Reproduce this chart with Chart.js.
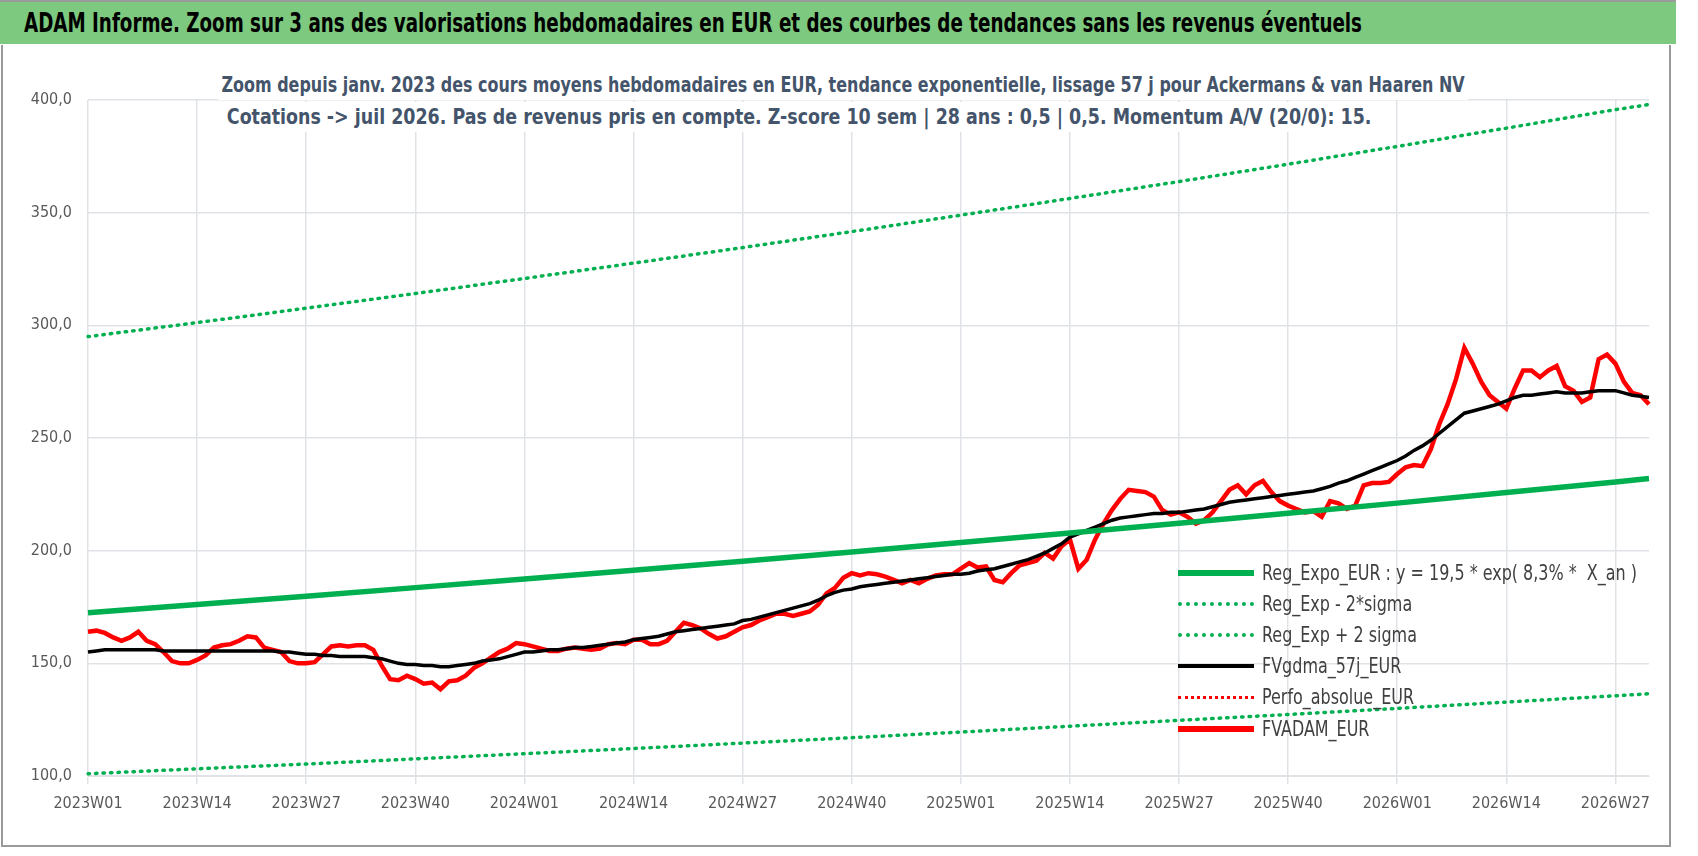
<!DOCTYPE html>
<html><head><meta charset="utf-8">
<script src="https://cdn.jsdelivr.net/npm/chart.js@4"></script>
<style>
body{margin:0;width:1698px;height:856px;background:#fff;overflow:hidden;font-family:'DejaVu Sans Condensed','DejaVu Sans',sans-serif;font-stretch:condensed;}
#banner{position:absolute;left:0;top:0;width:1676px;height:42px;background:#7dc97f;border-top:2px solid #9a9a9a;}
#banner span{position:absolute;left:24px;top:6px;font-weight:bold;font-size:26px;color:#000;white-space:nowrap;transform-origin:0 0;display:inline-block;}
#frame{position:absolute;left:1px;top:45px;width:1666px;height:800px;border:2px solid #9a9a9a;border-top:none;}
#wrap{position:absolute;left:0;top:0;width:1698px;height:856px;}
.tl{position:absolute;background:#fff;font-weight:bold;font-size:21px;line-height:30px;color:#44546a;white-space:nowrap;transform-origin:50% 50%;display:inline-block;padding:0 4px;}
#legend{position:absolute;left:1178px;top:557px;font-size:21px;color:#404040;}
.it{height:31.2px;display:flex;align-items:center;white-space:nowrap;}
.sw{width:76px;margin-right:8px;height:0;flex:none;}
.tx{display:inline-block;transform-origin:0 50%;}
</style></head><body>
<div id="banner"><span id="bt">ADAM Informe. Zoom sur 3 ans des valorisations hebdomadaires en EUR et des courbes de tendances sans les revenus éventuels</span></div>
<div id="frame"></div>
<div id="wrap"><canvas id="c" width="1698" height="856"></canvas></div>
<span class="tl" id="t1">Zoom depuis janv. 2023 des cours moyens hebdomadaires en EUR, tendance exponentielle, lissage 57 j pour Ackermans &amp; van Haaren NV</span>
<span class="tl" id="t2">Cotations -&gt; juil 2026. Pas de revenus pris en compte. Z-score 10 sem | 28 ans : 0,5 | 0,5. Momentum A/V (20/0): 15.</span>
<div id="legend">
<div class="it"><div class="sw" style="border-top:6px solid #00b050"></div><span class="tx">Reg_Expo_EUR : y = 19,5 * exp( 8,3% *&nbsp; X_an )</span></div>
<div class="it"><div class="sw" style="border-top:4px dotted #00b050"></div><span class="tx">Reg_Exp - 2*sigma</span></div>
<div class="it"><div class="sw" style="border-top:4px dotted #00b050"></div><span class="tx">Reg_Exp + 2 sigma</span></div>
<div class="it"><div class="sw" style="border-top:4px solid #000"></div><span class="tx">FVgdma_57j_EUR</span></div>
<div class="it"><div class="sw" style="border-top:3px dotted #ff0000"></div><span class="tx">Perfo_absolue_EUR</span></div>
<div class="it"><div class="sw" style="border-top:6px solid #ff0000"></div><span class="tx">FVADAM_EUR</span></div>
</div>
<script>
// weekly labels 2023W01 .. 2026W31
const years=[2023,2024,2025,2026];
const weeksPerYear=[52,52,52,31];
const labels=[];
years.forEach((y,k)=>{for(let w=1;w<=weeksPerYear[k];w++)labels.push(y+'W'+String(w).padStart(2,'0'));});

const fvadam=[
164,164.5,163.5,161.5,160,161.5,164,160,158.5,155,151,150,150,
151.5,153.5,157,158,158.5,160,162,161.5,157,156,155,151,150,
150,150.5,154,157.5,158,157.5,158,158,156,149,143,142.5,144.5,
143,141,141.5,138.5,142,142.5,144.5,148,150,152.5,155,156.5,159,
158.5,157.5,156.5,155.5,155.5,156.5,157,156.5,156,156.5,158.5,159,158.5,
160.5,160.5,158.5,158.5,160,164,168,167,165.5,163,161,162,164,
166,167,169,170.5,172,172,171,172,173,176,181,183.5,188,
190,189,190,189.5,188.5,187,185.5,187,185.5,187.5,189,189.5,189.5,
192,194.5,192.5,193,187,186,190,193.5,194.5,195.5,199,196.5,202,
205,192,196,205,212,218,223,227,226.5,226,224,218,216,
217,215,212,213.5,217,222,227,229,225,229,231,226,222,
220,218.5,217,217.5,215,222,221,218.5,220,229,230,230,230.5,
234,237,238,237.5,245,256,265,276,290,283,275,269,266,
263,272,280,280,277,280,282,273,271,266,268,285,287,
283,275,270,269,265];

const fvgdma=[
155,155.5,156,156,156,156,156,156,156,155.5,155.5,155.5,155.5,
155.5,155.5,155.5,155.5,155.5,155.5,155.5,155.5,155.5,155.5,155,155,154.5,
154,154,153.5,153.5,153,153,153,153,152.5,152,151,150,149.5,
149.5,149,149,148.5,148.5,149,149.5,150,151,151.5,152,153,154,
155,155,155.5,156,156,156.5,157,157,157.5,158,158.5,159,159.5,
160.5,161,161.5,162,163,164,164.5,165,165.5,166,166.5,167,167.5,
169,169.5,170.5,171.5,172.5,173.5,174.5,175.5,176.5,178,180,181.5,182.5,
183,184,184.5,185,185.5,186,186.5,187,187.5,188,188.5,189,189.5,
189.5,190,191,191.5,192,193,194,195,196,197.5,199,201,203,
206,207.5,209,210.5,212,213.5,214.5,215,215.5,216,216.5,216.5,217,
217,217.5,218,218.5,219.5,220.5,221.5,222,222.5,223,223.5,224,224.5,
225,225.5,226,226.5,227.5,228.5,230,231,232.5,234,235.5,237,238.5,
240,242,244.5,246.5,249,252,255,258,261,262,263,264,265,
266.5,268,269,269,269.5,270,270.5,270,270,270,270.5,271,271,
271,270,269,268.5,268];

// trend values read every 13 weeks (index 0,13,...,182) and last week
const trendIdx=[0,13,26,39,52,65,78,91,104,117,130,143,156,169,182,186];
const regExpo=[172.5,176.1,179.8,183.6,187.4,191.3,195.3,199.4,203.6,207.8,212.2,216.6,221.1,225.8,230.5,232];
const regMinus=[101,103.2,105.3,107.6,109.9,112.2,114.6,117.0,119.5,122.1,124.7,127.3,130.0,132.8,135.6,136.5];
const regPlus=[295,301.2,307.6,314.1,320.8,327.6,334.5,341.6,348.9,356.3,363.8,371.5,379.4,387.5,395.7,398];
const yTicks=[100,150,200,250,300,350,400];

function sparse(vals){const a=new Array(labels.length).fill(null);trendIdx.forEach((i,k)=>a[i]=vals[k]);return a;}

function fitW(el,w){const r=el.getBoundingClientRect().width;el.style.transform='scaleX('+(w/r)+')';}
fitW(document.getElementById('bt'),1338);
function placeTitle(id,cx,cy,w){const el=document.getElementById(id);const r=el.getBoundingClientRect();
 el.style.left=(cx-r.width/2)+'px';el.style.top=(cy-r.height/2)+'px';el.style.transform='scaleX('+(w/r.width)+')';}
placeTitle('t1',843,85,1250);
placeTitle('t2',799,117,1152);
const txs=document.querySelectorAll('.tx');const s0=375/txs[0].getBoundingClientRect().width;
txs.forEach(t=>t.style.transform='scaleX('+s0+')');

const tickFont={size:16,family:"'DejaVu Sans Condensed','DejaVu Sans'"};
new Chart(document.getElementById('c'),{
type:'line',
data:{labels:labels,datasets:[
{label:'Reg_Expo_EUR',data:sparse(regExpo),borderColor:'#00b050',borderWidth:5.5,spanGaps:true,pointRadius:0},
{label:'Reg_Exp - 2*sigma',data:sparse(regMinus),borderColor:'#00b050',borderWidth:3.5,borderDash:[1.5,6],borderCapStyle:'round',spanGaps:true,pointRadius:0},
{label:'Reg_Exp + 2 sigma',data:sparse(regPlus),borderColor:'#00b050',borderWidth:3.5,borderDash:[1.5,6],borderCapStyle:'round',spanGaps:true,pointRadius:0},
{label:'FVgdma_57j_EUR',data:fvgdma,borderColor:'#000',borderWidth:3.5,pointRadius:0},
{label:'FVADAM_EUR',data:fvadam,borderColor:'#ff0000',borderWidth:4.5,pointRadius:0}
]},
options:{responsive:false,animation:false,
layout:{padding:{left:0,top:100,right:49,bottom:0}},
plugins:{legend:{display:false},tooltip:{enabled:false}},
scales:{
x:{offset:false,grid:{color:(c)=>c.index%13===0?'#dfe3e8':'rgba(0,0,0,0)',lineWidth:1.5,tickLength:8,drawTicks:true},border:{color:'#dfe3e8'},
 ticks:{autoSkip:false,maxRotation:0,minRotation:0,color:'#595959',font:tickFont,padding:10,
 callback:function(v,i){return i%13===0?labels[i]:'';}},
 afterFit:(s)=>{s.height=80;}},
y:{min:100,max:400,afterBuildTicks:(s)=>{s.ticks=yTicks.map(v=>({value:v}));},
 grid:{color:'#dfe3e8',lineWidth:1.5,drawTicks:false},border:{display:false},
 ticks:{color:'#595959',padding:16,font:tickFont,callback:(v)=>v.toFixed(1).replace('.',',')},
 afterFit:(s)=>{s.width=88;}}
}}});
</script></body></html>
